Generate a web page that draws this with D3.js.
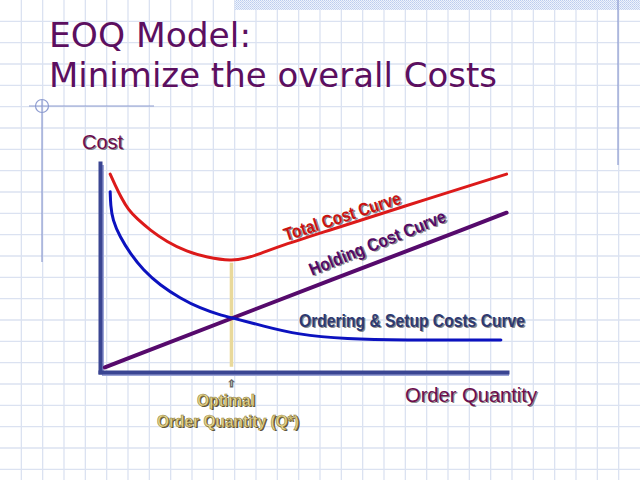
<!DOCTYPE html>
<html><head><meta charset="utf-8">
<script src="https://cdn.jsdelivr.net/npm/d3@7"></script>
<style>html,body{margin:0;padding:0;background:#fff;overflow:hidden}</style>
</head><body>
<svg id="c" width="640" height="480"></svg>
<script>
// ---- data (order quantity Q in % of axis, cost in % of axis) ----
const titleLines = ["EOQ Model:", "Minimize the overall Costs"];
const axisTitles = ["Cost", "Order Quantity"];
const curveNames = ["Total Cost Curve", "Holding Cost Curve", "Ordering & Setup Costs Curve"];
const optimalLabel = ["Optimal", "Order Quantity (Q*)"];

const totalQ    = [2.5, 3.7, 5.3, 7.0, 9.0, 12.3, 16.4, 21.3, 26.2, 32.4, 35.6, 39.3, 44.2, 56.5, 73.7, 99.9];
const totalCost = [94.7, 89.5, 83.1, 77.5, 73.5, 67.9, 62.3, 57.6, 54.9, 53.1, 54.3, 56.5, 60.3, 67.9, 78.7, 94.7];

const holdingQ    = [1.2, 32.4, 99.9];
const holdingCost = [2.2, 25.8, 76.2];

const orderingQ    = [2.5, 2.6, 3.1, 4.9, 7.4, 10.6, 14.7, 19.7, 24.6, 29.5, 32.7, 40.1, 48.4, 60.7, 73.7, 98.5];
const orderingCost = [86.3, 79.9, 72.7, 64.7, 56.8, 48.8, 41.6, 35.3, 30.5, 27.3, 25.8, 22.0, 17.9, 15.8, 15.2, 15.3];

const optimalQ = 32.3;
const optimalSpan = [2.5, 52.3];

// ---- drawing ----
const W = 640, H = 480;
const svg = d3.select("#c");
const x = d3.scaleLinear().domain([0, 100]).range([100, 507]);
const y = d3.scaleLinear().domain([0, 100]).range([372, 163]);

// background grid
const step = W / 30;
const defs = svg.append("defs");
const pat = defs.append("pattern").attr("id", "dots").attr("width", 2).attr("height", 2)
  .attr("patternUnits", "userSpaceOnUse");
pat.append("rect").attr("width", 2).attr("height", 2).attr("fill", "#eef3fc");
pat.append("rect").attr("width", 1).attr("height", 1).attr("fill", "#bccdee");
pat.append("rect").attr("x", 1).attr("y", 1).attr("width", 1).attr("height", 1).attr("fill", "#c9d7f2");

svg.append("rect").attr("width", W).attr("height", H).attr("fill", "#fff");
const grid = svg.append("g").attr("stroke", "#dbe2f1").attr("stroke-width", 1.3);
grid.selectAll("line.v").data(d3.range(1, 30)).join("line").attr("class", "v")
  .attr("x1", d => d * step).attr("x2", d => d * step).attr("y1", 0).attr("y2", H);
grid.selectAll("line.h").data(d3.range(1, 23)).join("line").attr("class", "h")
  .attr("y1", d => d * step).attr("y2", d => d * step).attr("x1", 0).attr("x2", W);

// slide decorations
svg.append("rect").attr("x", 235).attr("y", 0).attr("width", W - 235).attr("height", 10).attr("fill", "url(#dots)");
const deco = svg.append("g").attr("stroke", "#8d9bd0").attr("fill", "none").attr("stroke-width", 1.2);
deco.append("line").attr("x1", 618).attr("x2", 618).attr("y1", 0).attr("y2", 165);
deco.append("line").attr("x1", 29).attr("x2", 154).attr("y1", 106).attr("y2", 106);
deco.append("line").attr("x1", 42).attr("x2", 42).attr("y1", 100).attr("y2", 262);
deco.append("circle").attr("cx", 42).attr("cy", 106).attr("r", 6.5);

// title
const tfont = "'DejaVu Sans Condensed','DejaVu Sans',Tahoma,sans-serif";
svg.append("text").attr("x", 49).attr("y", 46.8).attr("font-family", tfont).attr("font-size", 34.5)
  .attr("fill", "#5c0f60").attr("textLength", 202).attr("lengthAdjust", "spacingAndGlyphs").text(titleLines[0]);
svg.append("text").attr("x", 49).attr("y", 87).attr("font-family", tfont).attr("font-size", 34.5)
  .attr("fill", "#5c0f60").attr("textLength", 448).attr("lengthAdjust", "spacingAndGlyphs").text(titleLines[1]);

// helper: shadowed text
const lfont = "'Liberation Sans',Arial,sans-serif";
function stext(g, o) {
  const gg = g.append("g").attr("transform", o.transform || null);
  const mk = (dx, dy, fill, extra) => {
    const t = gg.append("text").attr("x", o.x + dx).attr("y", o.y + dy)
      .attr("font-family", lfont).attr("font-size", o.size).attr("font-weight", o.weight || "normal")
      .attr("text-anchor", o.anchor || "start").attr("fill", fill).text(o.text);
    if (o.len) t.attr("textLength", o.len).attr("lengthAdjust", "spacingAndGlyphs");
    if (extra) extra(t);
    return t;
  };
  mk(1.3, 1.3, o.shadow || "rgba(40,40,40,0.55)");
  mk(0, 0, o.fill, o.extra);
}

// axes
const axG = svg.append("g");
const yAxis = d3.axisLeft(y).tickValues([]).tickSizeOuter(0);
const xAxis = d3.axisBottom(x).tickValues([]).tickSizeOuter(0);
function styleAxis(g) {
  g.select(".domain").attr("stroke", "#3a4592").attr("stroke-width", 4).attr("stroke-linecap", "square");
}
axG.append("g").attr("transform", "translate(101.5,1.5)").call(d3.axisLeft(y).tickValues([]).tickSizeOuter(0))
  .select(".domain").attr("stroke", "#9aa3d6").attr("stroke-width", 4);
axG.append("g").attr("transform", `translate(1.5,${y(0) + 1.5})`).call(d3.axisBottom(x).tickValues([]).tickSizeOuter(0))
  .select(".domain").attr("stroke", "#9aa3d6").attr("stroke-width", 4);
axG.append("g").attr("transform", "translate(100,0)").call(yAxis).call(styleAxis);
axG.append("g").attr("transform", `translate(0,${y(0)})`).call(xAxis).call(styleAxis);

// optimal marker line
svg.append("line").attr("x1", x(optimalQ)).attr("x2", x(optimalQ))
  .attr("y1", y(optimalSpan[0])).attr("y2", y(optimalSpan[1]))
  .attr("stroke", "#e9d99b").attr("stroke-width", 3.5);

// curves
const line = d3.line().x(d => x(d[0])).y(d => y(d[1])).curve(d3.curveBasis);
const series = [
  {q: holdingQ, v: holdingCost, color: "#560a6c", w: 4},
  {q: orderingQ, v: orderingCost, color: "#0c12bf", w: 3},
  {q: totalQ, v: totalCost, color: "#dc1a1a", w: 3}
];
svg.append("g").selectAll("path").data(series).join("path")
  .attr("d", s => line(s.q.map((q, i) => [q, s.v[i]])))
  .attr("fill", "none").attr("stroke", s => s.color).attr("stroke-width", s => s.w)
  .attr("stroke-linecap", "round").attr("stroke-linejoin", "round");

// labels
const L = svg.append("g");
stext(L, {x: 82, y: 148.5, size: 20, text: axisTitles[0], fill: "#6c0d4e", len: 41});
stext(L, {x: 405, y: 402, size: 20, text: axisTitles[1], fill: "#6c0d4e", len: 132});
stext(L, {x: 0, y: 0, size: 18, weight: "bold", text: curveNames[0], fill: "#c91212",
  len: 122, transform: "translate(286,241) rotate(-18)"});
stext(L, {x: 0, y: 0, size: 18, weight: "bold", text: curveNames[1], fill: "#520a68",
  len: 146, transform: "translate(312,276) rotate(-22)"});
stext(L, {x: 299, y: 326.5, size: 18, weight: "bold", text: curveNames[2], fill: "#2e3a72", len: 226});

// optimal label
svg.append("text").attr("x", x(optimalQ)).attr("y", 386.5).attr("text-anchor", "middle")
  .attr("font-family", "'DejaVu Sans',sans-serif").attr("font-size", 10)
  .attr("fill", "#f4f0e0").attr("stroke", "#6a6a6a").attr("stroke-width", 0.8).text("\u21E7");
const okhaki = t => t.attr("stroke", "#8a7838").attr("stroke-width", 0.6);
stext(L, {x: 226, y: 405.5, size: 17, weight: "bold", anchor: "middle", text: optimalLabel[0],
  fill: "#e6d68e", len: 58, shadow: "rgba(60,50,20,0.85)", extra: okhaki});
stext(L, {x: 228, y: 426.5, size: 17, weight: "bold", anchor: "middle", text: optimalLabel[1],
  fill: "#e6d68e", len: 142, shadow: "rgba(60,50,20,0.85)", extra: okhaki});
</script>
</body></html>
